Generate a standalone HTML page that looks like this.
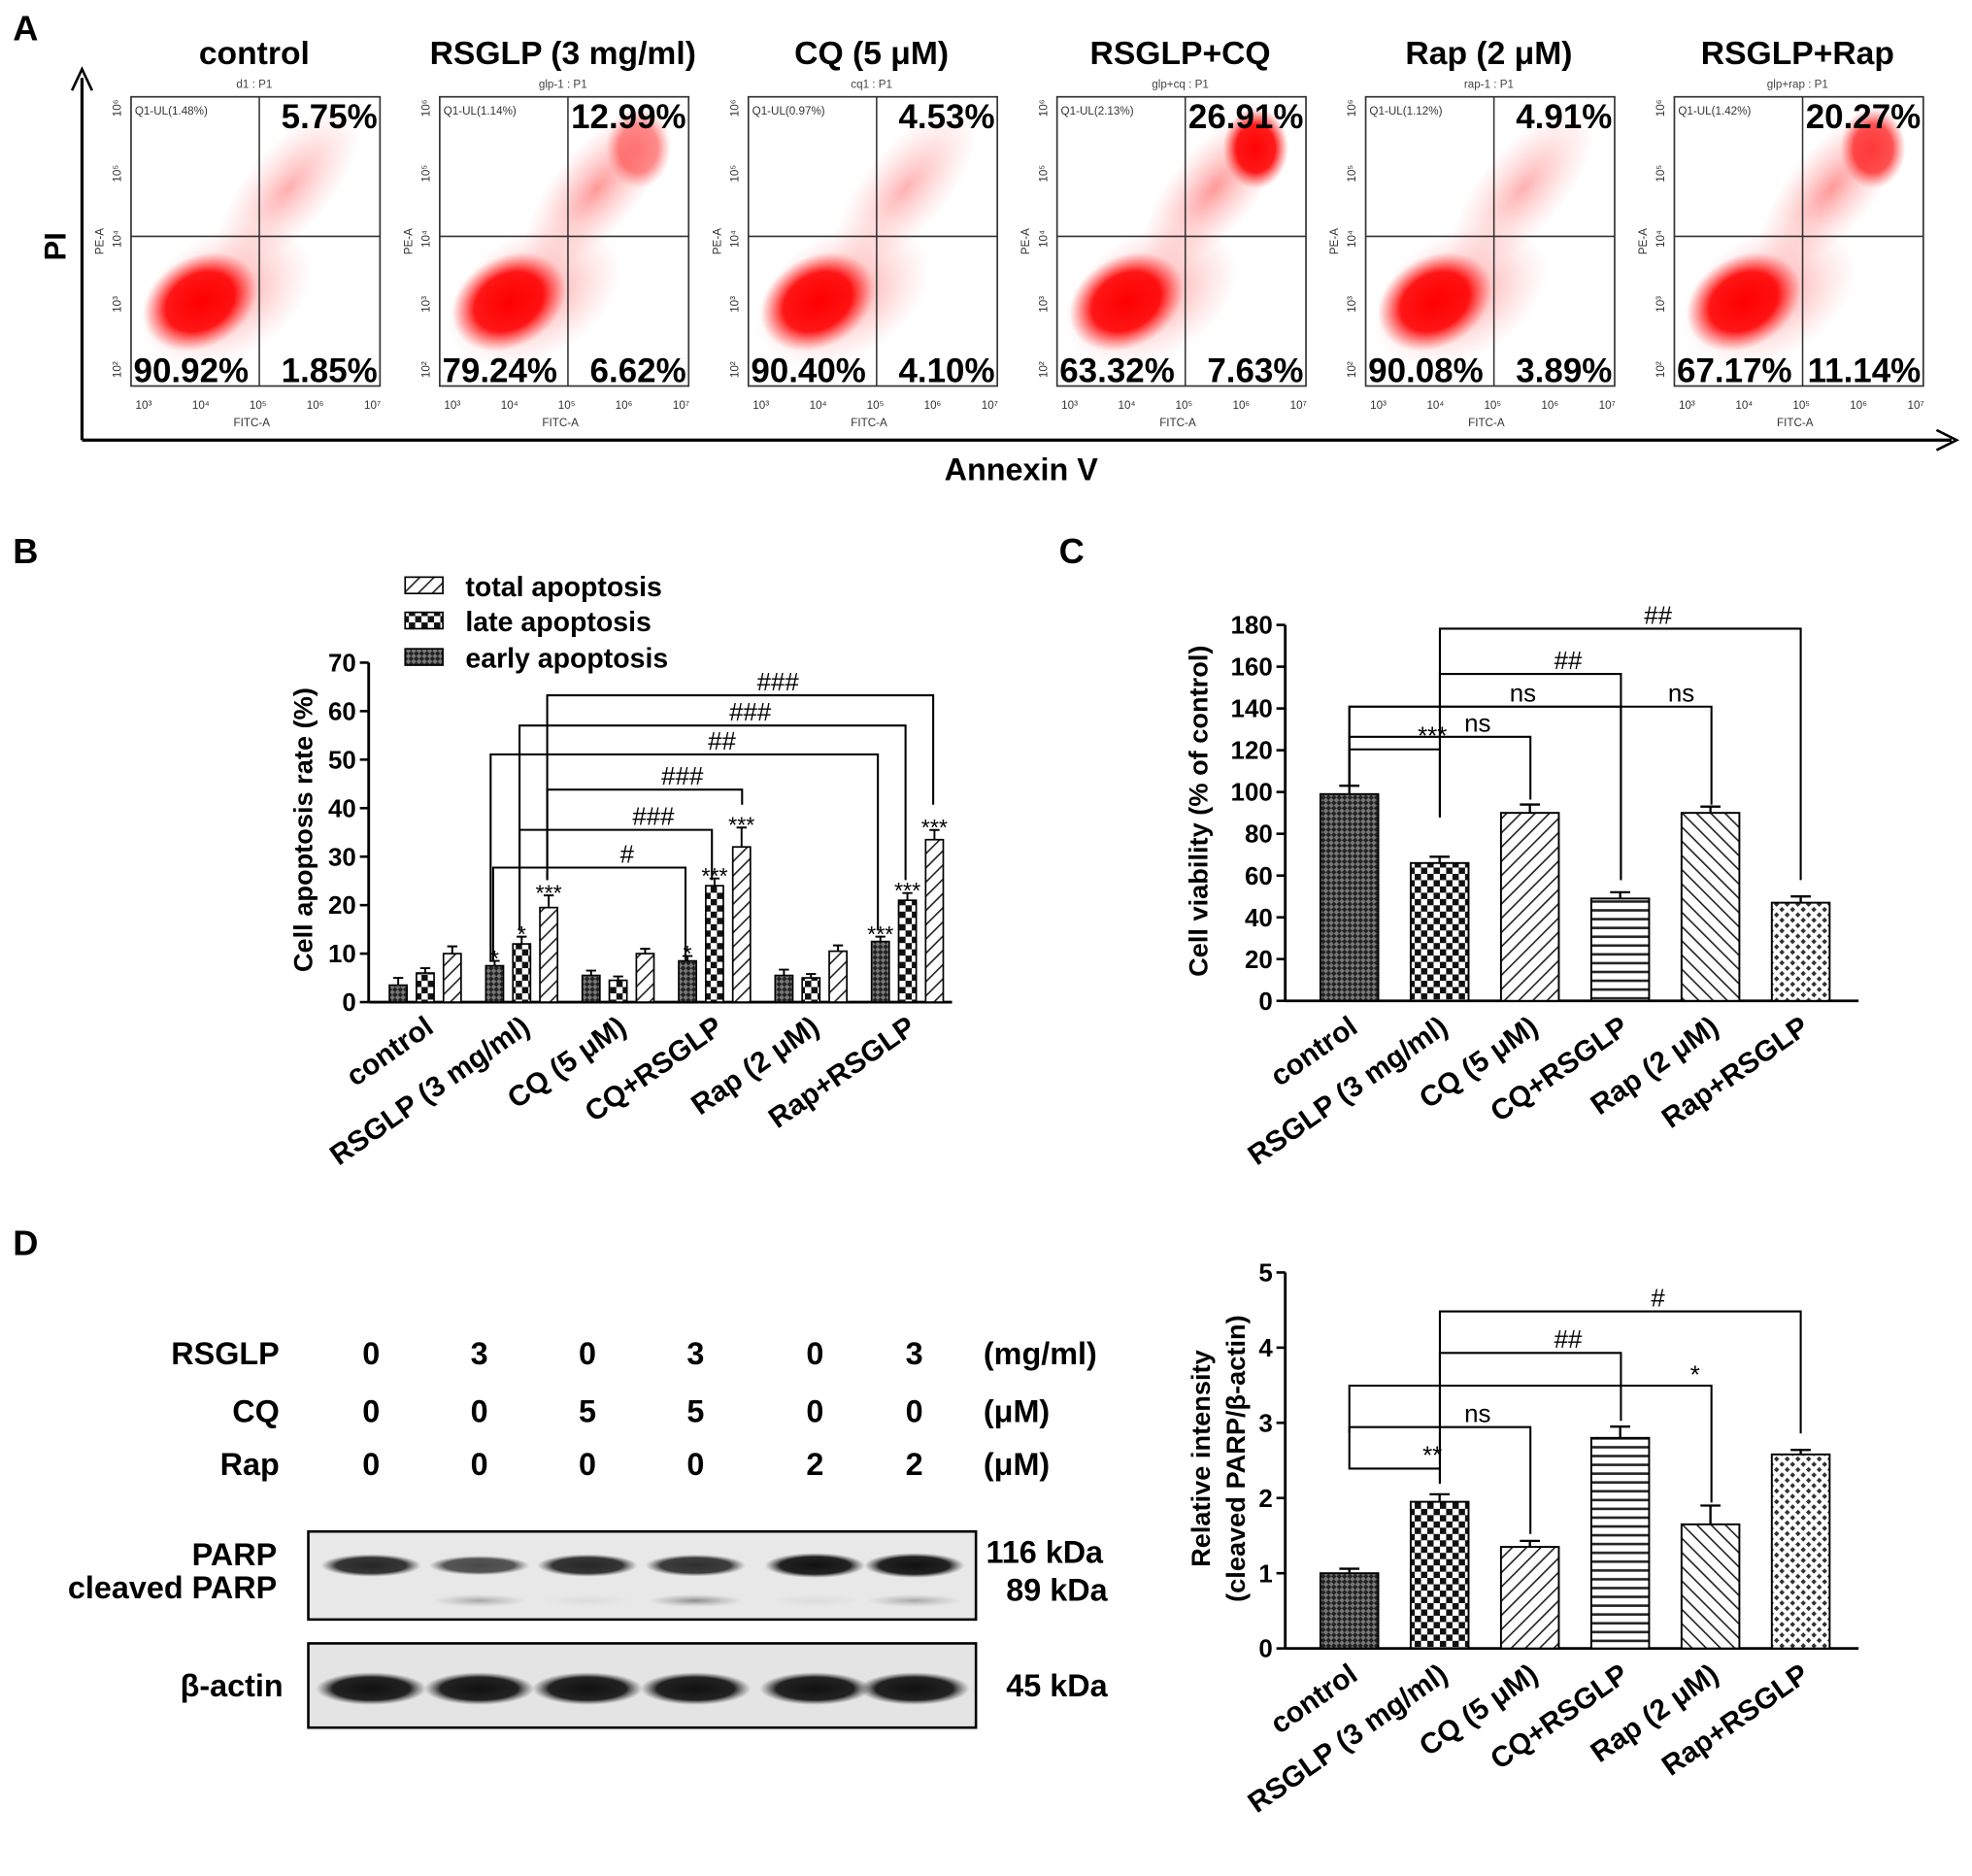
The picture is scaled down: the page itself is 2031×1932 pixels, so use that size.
<!DOCTYPE html>
<html><head><meta charset="utf-8">
<style>
html,body{margin:0;padding:0;background:#fff;}
svg{display:block;font-family:"Liberation Sans",Arial,sans-serif;}
.b{font-weight:bold;}
</style></head>
<body>
<svg id="fig" width="2031" height="1932" viewBox="0 0 1568 1492" xmlns="http://www.w3.org/2000/svg">
<defs>
  <pattern id="pHatch" width="8" height="8" patternUnits="userSpaceOnUse" patternTransform="rotate(45)">
    <rect width="8" height="8" fill="#fff"/><line x1="0" y1="0" x2="0" y2="8" stroke="#222" stroke-width="2.5"/>
  </pattern>
  <pattern id="pHatchR" width="8" height="8" patternUnits="userSpaceOnUse" patternTransform="rotate(-45)">
    <rect width="8" height="8" fill="#fff"/><line x1="0" y1="0" x2="0" y2="8" stroke="#222" stroke-width="2.5"/>
  </pattern>
  <pattern id="pChk" width="10" height="10" patternUnits="userSpaceOnUse">
    <rect width="10" height="10" fill="#fff"/><rect width="5" height="5" fill="#111"/><rect x="5" y="5" width="5" height="5" fill="#111"/>
  </pattern>
  <pattern id="pDense" width="6" height="6" patternUnits="userSpaceOnUse" patternTransform="rotate(45)">
    <rect width="6" height="6" fill="#777"/><rect width="3" height="3" fill="#222"/><rect x="3" y="3" width="3" height="3" fill="#222"/>
  </pattern>
  <pattern id="pHoriz" width="8" height="7" patternUnits="userSpaceOnUse">
    <rect width="8" height="7" fill="#fff"/><line x1="0" y1="3" x2="8" y2="3" stroke="#222" stroke-width="2"/>
  </pattern>
  <pattern id="pDots" width="6" height="6" patternUnits="userSpaceOnUse" patternTransform="rotate(45)">
    <rect width="6" height="6" fill="#fff"/><rect width="3" height="3" fill="#333"/>
  </pattern>
  <radialGradient id="gRed"><stop offset="0" stop-color="#f00" stop-opacity="1"/><stop offset="0.6" stop-color="#f00" stop-opacity="0.9"/><stop offset="1" stop-color="#f33" stop-opacity="0"/></radialGradient>
  <radialGradient id="gRedL"><stop offset="0" stop-color="#f44" stop-opacity="0.55"/><stop offset="1" stop-color="#f88" stop-opacity="0"/></radialGradient>
  <radialGradient id="gBand"><stop offset="0" stop-color="#111"/><stop offset="0.7" stop-color="#222"/><stop offset="1" stop-color="#555" stop-opacity="0"/></radialGradient>
  <radialGradient id="gBandL"><stop offset="0" stop-color="#666"/><stop offset="1" stop-color="#888" stop-opacity="0"/></radialGradient>
</defs>

<text x="10" y="32" font-size="28" class="b">A</text>
<g id="panelA"></g>
<line x1="65" y1="350" x2="65" y2="62" stroke="#000" stroke-width="2.5"/>
<path d="M57,72 L65,55 L73,72" fill="none" stroke="#000" stroke-width="2"/>
<line x1="65" y1="350" x2="1552" y2="350" stroke="#000" stroke-width="2.5"/>
<path d="M1540,342 L1556,350 L1540,358" fill="none" stroke="#000" stroke-width="2"/>
<text x="52" y="196" font-size="24" class="b" text-anchor="middle" transform="rotate(-90 52 196)">PI</text>
<text x="812" y="382" font-size="25" class="b" text-anchor="middle">Annexin V</text>

<text x="10" y="448" font-size="28" class="b">B</text>
<g id="panelB"></g>
<text x="842" y="448" font-size="28" class="b">C</text>
<g id="panelC"></g>
<text x="10" y="998" font-size="28" class="b">D</text>
<g id="panelD"></g>
<g id="panelDchart"></g>
</svg>
<script>
const NS='http://www.w3.org/2000/svg';
function mk(parent,tag,attrs,text){const e=document.createElementNS(NS,tag);for(const k in attrs)e.setAttribute(k,attrs[k]);if(text!==undefined)e.textContent=text;parent.appendChild(e);return e;}

const flowTitles=['control','RSGLP (3 mg/ml)','CQ (5 μM)','RSGLP+CQ','Rap (2 μM)','RSGLP+Rap'];
const flowSub=['d1 : P1','glp-1 : P1','cq1 : P1','glp+cq : P1','rap-1 : P1','glp+rap : P1'];
const flowUL=['1.48','1.14','0.97','2.13','1.12','1.42'];
const flowUR=['5.75%','12.99%','4.53%','26.91%','4.91%','20.27%'];
const flowLL=['90.92%','79.24%','90.40%','63.32%','90.08%','67.17%'];
const flowLR=['1.85%','6.62%','4.10%','7.63%','3.89%','11.14%'];
const A=document.getElementById('panelA');
for(let i=0;i<6;i++){
  const x0=104+i*245.5, x1=x0+198, y0=77, y1=307, vx=x0+102, hy=188;
  const g=mk(A,'g',{});
  
  
  const t=mk(g,'text',{x:x0+98,y:51,'font-size':26,'font-weight':'bold','text-anchor':'middle'},flowTitles[i]);
  
  
  mk(g,'text',{x:x0+98,y:70,'font-size':9,'text-anchor':'middle',fill:'#444'},flowSub[i]);
  const late=parseFloat(flowUR[i])/30;
  mk(g,'ellipse',{cx:x0+75,cy:235,rx:75,ry:50,fill:'url(#gRedL)',transform:`rotate(-30 ${x0+75} 235)`});
  mk(g,'ellipse',{cx:x0+55,cy:240,rx:48,ry:36,fill:'url(#gRed)',transform:`rotate(-30 ${x0+55} 240)`});
  mk(g,'ellipse',{cx:x0+125,cy:150,rx:80,ry:34,fill:'url(#gRedL)',opacity:0.6+late,transform:`rotate(-50 ${x0+125} 150)`});
  if(late>0.3) mk(g,'ellipse',{cx:x0+158,cy:118,rx:26,ry:32,fill:'url(#gRed)',opacity:Math.min(1,late*1.1)});
  mk(g,'rect',{x:x0,y:y0,width:x1-x0,height:y1-y0,fill:'none',stroke:'#333','stroke-width':1.3});
  mk(g,'line',{x1:vx,y1:y0,x2:vx,y2:y1,stroke:'#333','stroke-width':1.2});
  mk(g,'line',{x1:x0,y1:hy,x2:x1,y2:hy,stroke:'#333','stroke-width':1.2});
  mk(g,'text',{x:x0+3,y:y0+14,'font-size':9,fill:'#333'},'Q1-UL('+flowUL[i]+'%)');
  mk(g,'text',{x:x1-2,y:y0+25,'font-size':27,'font-weight':'bold','text-anchor':'end'},flowUR[i]);
  mk(g,'text',{x:x0+2,y:y1-3,'font-size':27,'font-weight':'bold'},flowLL[i]);
  mk(g,'text',{x:x1-2,y:y1-3,'font-size':27,'font-weight':'bold','text-anchor':'end'},flowLR[i]);
  ['3','4','5','6','7'].forEach((e,j)=>{const xx=x0+10+j*45.5;mk(g,'text',{x:xx,y:y1+18,'font-size':9,'text-anchor':'middle',fill:'#333'},'10'+String.fromCharCode([0x2070,0xb9,0xb2,0xb3,0x2074,0x2075,0x2076,0x2077][+e]));});
  ['2','3','4','5','6'].forEach((e,j)=>{const yy=y1-13-j*52;mk(g,'text',{x:x0-8,y:yy,'font-size':9,'text-anchor':'middle',fill:'#333',transform:`rotate(-90 ${x0-8} ${yy})`},'10'+String.fromCharCode([0x2070,0xb9,0xb2,0xb3,0x2074,0x2075,0x2076][+e]));});
  mk(g,'text',{x:vx-6,y:y1+32,'font-size':9,'text-anchor':'middle',fill:'#333'},'FITC-A');
  mk(g,'text',{x:x0-22,y:192,'font-size':9,'text-anchor':'middle',fill:'#333',transform:`rotate(-90 ${x0-22} 192)`},'PE-A');
}

function axis(g,x0,yTop,yBot,xEnd,max,step){
  mk(g,'line',{x1:x0,y1:yTop,x2:x0,y2:yBot,stroke:'#000','stroke-width':2.2});
  mk(g,'line',{x1:x0,y1:yBot,x2:xEnd,y2:yBot,stroke:'#000','stroke-width':2.2});
  for(let v=0;v<=max+1e-9;v+=step){
    const y=yBot-(yBot-yTop)*v/max;
    mk(g,'line',{x1:x0-7,y1:y,x2:x0,y2:y,stroke:'#000','stroke-width':2});
    const t=mk(g,'text',{x:x0-10,y:y+7,'font-size':20,'font-weight':'bold','text-anchor':'end'},v);
    
    
  }
}
function xlabels(g,xs,labels,y){
  labels.forEach((l,i)=>{
    const t=mk(g,'text',{x:xs[i]+8,y:y,'font-size':23,'font-weight':'bold','text-anchor':'end',transform:`rotate(-35 ${xs[i]+8} ${y})`},l);
    
    
  });
}
function bracket(g,xa,ya,xb,yb,yt,label){
  mk(g,'path',{d:`M${xa},${ya} V${yt} H${xb} V${yb}`,fill:'none',stroke:'#000','stroke-width':1.6});
  mk(g,'text',{x:(xa+xb)/2+30,y:yt-4,'font-size':20,'text-anchor':'middle'},label);
}

const bCategories=['control','RSGLP (3 mg/ml)','CQ (5 μM)','CQ+RSGLP','Rap (2 μM)','Rap+RSGLP'];
const bEarly=[3.5,7.5,5.5,8.5,5.5,12.5];
const bLate=[6,12,4.5,24,5,21];
const bTotal=[10,19.5,10,32,10.5,33.5];
const bEarlyErr=[1.5,1,1,1,1.2,1];
const bLateErr=[1,1.5,0.8,1.5,0.8,1.5];
const bTotalErr=[1.5,2.5,1,4,1.2,2];
const bStars=[['','',''],['*','*','***'],['','',''],['*','***','***'],['','',''],['***','***','***']];
const B=document.getElementById('panelB');
const bx0=293,byT=527,byB=797,bxE=757,bMax=70;
const byS=v=>byB-(byB-byT)*v/bMax;
const bGroupX=i=>338+i*76.7;
axis(B,bx0,byT,byB,bxE,70,10);
const series=[[bEarly,bEarlyErr,'url(#pDense)','early'],[bLate,bLateErr,'url(#pChk)','late'],[bTotal,bTotalErr,'url(#pHatch)','total']];
for(let i=0;i<6;i++){
  series.forEach((s,k)=>{
    const cx=bGroupX(i)+(k-1)*21.5, v=s[0][i], e=s[1][i];
    const r=mk(B,'rect',{x:cx-7,y:byS(v),width:14,height:byB-byS(v),fill:s[2],stroke:'#000','stroke-width':1.3});
    
    
    mk(B,'path',{d:`M${cx},${byS(v)} V${byS(v+e)} M${cx-4},${byS(v+e)} H${cx+4}`,stroke:'#000','stroke-width':1.5,fill:'none'});
    if(bStars[i][k]) mk(B,'text',{x:cx,y:byS(v+e)+4,'font-size':18,'text-anchor':'middle'},bStars[i][k]);
  });
}
xlabels(B,bCategories.map((c,i)=>bGroupX(i)),bCategories,820);
{const t=mk(B,'text',{x:248,y:660,'font-size':21,'font-weight':'bold','text-anchor':'middle',transform:'rotate(-90 248 660)'},'Cell apoptosis rate (%)');
}
[['url(#pHatch)','total apoptosis',467],['url(#pChk)','late apoptosis',495],['url(#pDense)','early apoptosis',524]].forEach(l=>{
  const g=mk(B,'g',{});
  
  
  mk(g,'rect',{x:322,y:l[2]-8,width:30,height:13,fill:l[0],stroke:'#000','stroke-width':1.3});
  mk(g,'text',{x:370,y:l[2]+7,'font-size':22,'font-weight':'bold'},l[1]);
});
bracket(B,392,765,545,765,690,'#');
bracket(B,413,740,566,700,660,'###');
bracket(B,435,700,590,640,628,'###');
bracket(B,390,765,698,740,600,'##');
bracket(B,413,740,720,700,577,'###');
bracket(B,435,700,742,640,553,'###');

const cCategories=['control','RSGLP (3 mg/ml)','CQ (5 μM)','CQ+RSGLP','Rap (2 μM)','Rap+RSGLP'];
const cValues=[99,66,90,49,90,47];
const cErr=[4,3,4,3,3,3];
const cFills=['url(#pDense)','url(#pChk)','url(#pHatch)','url(#pHoriz)','url(#pHatchR)','url(#pDots)'];
const C=document.getElementById('panelC');
const cx0=1022,cyT=497,cyB=796,cxE=1478,cMax=180;
const cyS=v=>cyB-(cyB-cyT)*v/cMax;
const cX=i=>1073+i*71.8;
axis(C,cx0,cyT,cyB,cxE,180,20);
cValues.forEach((v,i)=>{
  const r=mk(C,'rect',{x:cX(i)-23,y:cyS(v),width:46,height:cyB-cyS(v),fill:cFills[i],stroke:'#000','stroke-width':1.5});
  
  
  mk(C,'path',{d:`M${cX(i)},${cyS(v)} V${cyS(v+cErr[i])} M${cX(i)-8},${cyS(v+cErr[i])} H${cX(i)+8}`,stroke:'#000','stroke-width':1.8,fill:'none'});
});
xlabels(C,cCategories.map((c,i)=>cX(i)),cCategories,820);
{const t=mk(C,'text',{x:960,y:645,'font-size':21,'font-weight':'bold','text-anchor':'middle',transform:'rotate(-90 960 645)'},'Cell viability (% of  control)');
}
bracket(C,1073,624,1145,650,596,'***');
bracket(C,1073,624,1217,636,586,'ns');
bracket(C,1073,624,1289,700,562,'ns');
bracket(C,1073,624,1361,640,562,'');
mk(C,'text',{x:1337,y:558,'font-size':20,'text-anchor':'middle'},'ns');
bracket(C,1145,650,1289,700,536,'##');
bracket(C,1145,650,1432,700,500,'##');

const D=document.getElementById('panelD');
const laneX=[295,381,467,553,648,727];
const rsglp=['0','3','0','3','0','3'], cq=['0','0','5','5','0','0'], rap=['0','0','0','0','2','2'];
const parpI=[1,0.6,1,0.9,1.3,1.3], cleavedI=[0,0.5,0.1,0.7,0.1,0.5];
[['RSGLP',rsglp,1085,'(mg/ml)'],['CQ',cq,1131,'(μM)'],['Rap',rap,1173,'(μM)']].forEach(r=>{
  mk(D,'text',{x:222,y:r[2],'font-size':25,'font-weight':'bold','text-anchor':'end'},r[0]);
  r[1].forEach((v,i)=>mk(D,'text',{x:laneX[i],y:r[2],'font-size':25,'font-weight':'bold','text-anchor':'middle'},v));
  mk(D,'text',{x:782,y:r[2],'font-size':25,'font-weight':'bold'},r[3]);
});
const blot1=mk(D,'rect',{x:245,y:1218,width:531,height:70,fill:'#e8e8e8',stroke:'#000','stroke-width':2});

const blot2=mk(D,'rect',{x:245,y:1307,width:531,height:67,fill:'#e4e4e4',stroke:'#000','stroke-width':2});

laneX.forEach((x,i)=>{
  mk(D,'ellipse',{cx:x,cy:1245,rx:40,ry:6+parpI[i]*3,fill:'url(#gBand)',opacity:0.5+parpI[i]*0.4});
  if(cleavedI[i]>0) mk(D,'ellipse',{cx:x,cy:1273,rx:38,ry:5,fill:'url(#gBandL)',opacity:cleavedI[i]});
  mk(D,'ellipse',{cx:x,cy:1343,rx:44,ry:13,fill:'url(#gBand)'});
});
mk(D,'text',{x:220,y:1245,'font-size':25,'font-weight':'bold','text-anchor':'end'},'PARP');
mk(D,'text',{x:220,y:1271,'font-size':25,'font-weight':'bold','text-anchor':'end'},'cleaved PARP');
mk(D,'text',{x:225,y:1349,'font-size':25,'font-weight':'bold','text-anchor':'end'},'β-actin');
mk(D,'text',{x:784,y:1243,'font-size':25,'font-weight':'bold'},'116 kDa');
mk(D,'text',{x:800,y:1273,'font-size':25,'font-weight':'bold'},'89 kDa');
mk(D,'text',{x:800,y:1349,'font-size':25,'font-weight':'bold'},'45 kDa');

const dCategories=['control','RSGLP (3 mg/ml)','CQ (5 μM)','CQ+RSGLP','Rap (2 μM)','Rap+RSGLP'];
const dValues=[1.0,1.95,1.35,2.8,1.65,2.58];
const dErr=[0.06,0.1,0.08,0.15,0.25,0.06];
const E=document.getElementById('panelDchart');
const dx0=1022,dyT=1012,dyB=1311,dxE=1478,dMax=5;
const dyS=v=>dyB-(dyB-dyT)*v/dMax;
axis(E,dx0,dyT,dyB,dxE,5,1);
dValues.forEach((v,i)=>{
  const r=mk(E,'rect',{x:cX(i)-23,y:dyS(v),width:46,height:dyB-dyS(v),fill:cFills[i],stroke:'#000','stroke-width':1.5});
  
  
  mk(E,'path',{d:`M${cX(i)},${dyS(v)} V${dyS(v+dErr[i])} M${cX(i)-8},${dyS(v+dErr[i])} H${cX(i)+8}`,stroke:'#000','stroke-width':1.8,fill:'none'});
});
xlabels(E,dCategories.map((c,i)=>cX(i)),dCategories,1335);
mk(E,'text',{x:962,y:1160,'font-size':21,'font-weight':'bold','text-anchor':'middle',transform:'rotate(-90 962 1160)'},'Relative intensity');
mk(E,'text',{x:990,y:1160,'font-size':21,'font-weight':'bold','text-anchor':'middle',transform:'rotate(-90 990 1160)'},'(cleaved PARP/β-actin)');
bracket(E,1073,1140,1145,1180,1168,'**');
bracket(E,1073,1140,1217,1220,1135,'ns');
bracket(E,1073,1140,1361,1195,1102,'');
mk(E,'text',{x:1348,y:1100,'font-size':20,'text-anchor':'middle'},'*');
bracket(E,1145,1180,1289,1130,1076,'##');
bracket(E,1145,1180,1432,1140,1043,'#');
</script>
</body></html>
